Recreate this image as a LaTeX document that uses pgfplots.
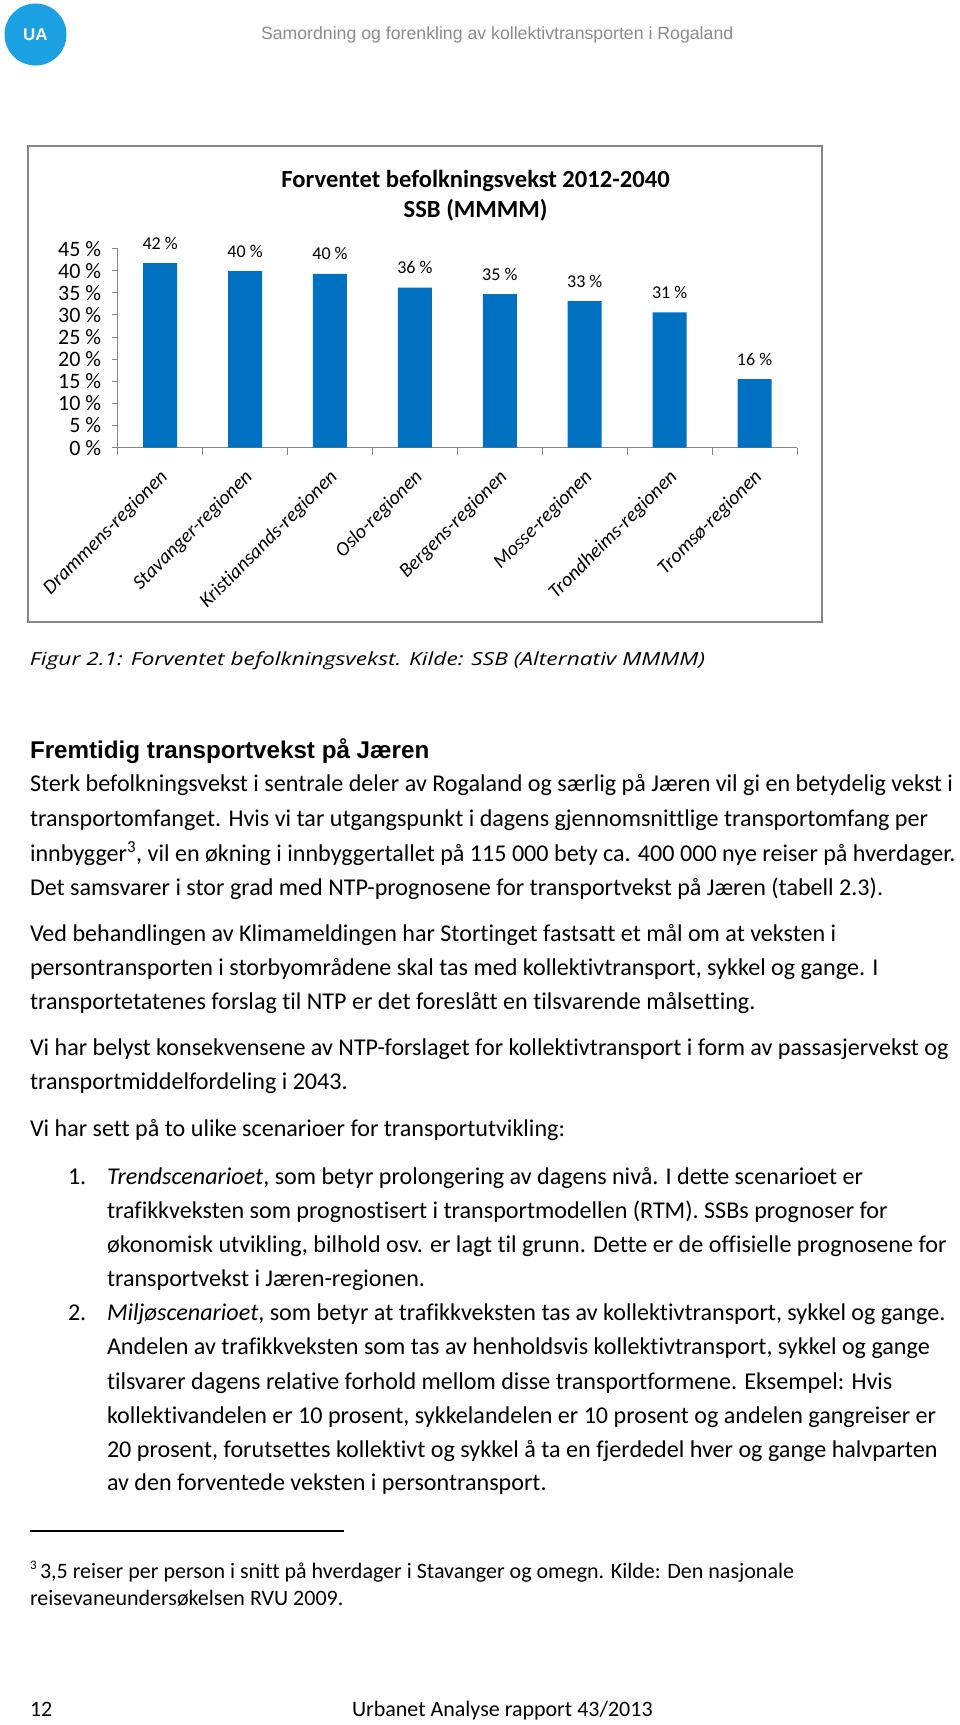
\documentclass[border=0pt]{standalone}
\usepackage{pgfplots}
\pgfplotsset{compat=1.18}
\usepackage{fontspec}
\usepackage{graphicx}
\setmainfont{Carlito}[Ligatures=NoCommon]
\newfontfamily\arial{Liberation Sans}
\newfontfamily\segoe{Open Sans}
\definecolor{barblue}{RGB}{0,112,192}
\definecolor{axisgray}{RGB}{134,134,134}
\definecolor{uablue}{RGB}{27,161,226}
\definecolor{headgray}{RGB}{140,140,140}
\newcommand{\tl}[4]{\node[anchor=base west, inner sep=0pt, outer sep=0pt] at (#1pt,-#2pt) {\resizebox{#3pt}{\height}{#4}};}
\newcommand{\nl}[3]{\node[anchor=base west, inner sep=0pt, outer sep=0pt] at (#1pt,-#2pt) {#3};}
\begin{document}
\begin{tikzpicture}
\useasboundingbox (0pt,0pt) rectangle (960pt,-1725pt);
\fill[white] (0pt,0pt) rectangle (960pt,-1725pt);
% header
\fill[uablue] (35.5pt,-34.5pt) circle (31pt);
\node[text=white, font=\arial\bfseries\fontsize{17}{20}\selectfont] at (35.5pt,-34.5pt) {UA};
\begin{scope}[font=\arial\fontsize{17.7}{20}\selectfont, text=headgray]
\nl{261}{39.5}{Samordning og forenkling av kollektivtransporten i Rogaland}
\end{scope}
% chart frame
\draw[axisgray, line width=2pt] (27.5pt,-146pt) rectangle (821.5pt,-622pt);
\node[font=\bfseries\fontsize{24.6}{28}\selectfont] at (475.6pt,-181pt) {Forventet befolkningsvekst 2012-2040};
\node[font=\bfseries\fontsize{24.6}{28}\selectfont] at (475.6pt,-210pt) {SSB (MMMM)};
\begin{axis}[
  at={(117.7pt,-447.6pt)}, anchor=south west,
  scale only axis, width=679.3pt, height=199pt,
  xmin=-0.5, xmax=7.5, ymin=0, ymax=45,
  axis x line*=bottom, axis y line*=left,
  axis line style={axisgray, line width=1pt, -},
  tick align=outside,
  ytick={0,5,...,45},
  yticklabel={\pgfmathprintnumber{\tick}~\%},
  /pgf/number format/assume math mode=true,
  yticklabel style={font=\fontsize{22}{26}\selectfont, xshift=-7pt},
  xtick={0,...,7},
  xticklabels={Drammens-regionen,Stavanger-regionen,Kristiansands-regionen,Oslo-regionen,Bergens-regionen,Mosse-regionen,Trondheims-regionen,Tromsø-regionen},
  xticklabel style={font=\itshape\fontsize{20}{24}\selectfont, anchor=east, xshift=7pt, yshift=-18pt, rotate=45},
  major x tick style={draw=none},
  minor xtick={-0.5,0.5,...,7.5},
  minor tick length=7pt, major tick length=6pt,
  tick style={axisgray, line width=1pt},
  clip=false,
]
\addplot[ybar, bar width=34pt, fill=barblue, draw=none,
  nodes near coords, point meta=explicit symbolic,
  every node near coord/.append style={anchor=center, yshift=20pt, font=\fontsize{18}{21}\selectfont, text=black}]
  table[meta=lab] {
x y lab
0 41.7 42~\%
1 39.9 40~\%
2 39.3 40~\%
3 36.2 36~\%
4 34.7 35~\%
5 33.1 33~\%
6 30.6 31~\%
7 15.5 16~\%
};
\end{axis}
% caption
\begin{scope}[font=\segoe\itshape\fontsize{18}{22}\selectfont]
\tl{30}{665}{675}{Figur 2.1: Forventet befolkningsvekst. Kilde: SSB (Alternativ MMMM)}
\end{scope}
\begin{scope}[font=\arial\bfseries\fontsize{24.2}{28}\selectfont]
\nl{30}{758.5}{Fremtidig transportvekst på Jæren}
\end{scope}
\begin{scope}[font=\fontsize{24.1}{29}\selectfont]
\nl{30}{791.6}{Sterk befolkningsvekst i sentrale deler av Rogaland og særlig på Jæren vil gi en betydelig vekst i}
\nl{30}{826}{transportomfanget. Hvis vi tar utgangspunkt i dagens gjennomsnittlige transportomfang per}
\nl{30}{861.2}{innbygger\textsuperscript{3}, vil en økning i innbyggertallet på 115 000 bety ca. 400 000 nye reiser på hverdager.}
\nl{30}{895.3}{Det samsvarer i stor grad med NTP-prognosene for transportvekst på Jæren (tabell 2.3).}
\nl{30}{941.4}{Ved behandlingen av Klimameldingen har Stortinget fastsatt et mål om at veksten i}
\nl{30}{975.5}{persontransporten i storbyområdene skal tas med kollektivtransport, sykkel og gange. I}
\nl{30}{1009.6}{transportetatenes forslag til NTP er det foreslått en tilsvarende målsetting.}
\nl{30}{1055.8}{Vi har belyst konsekvensene av NTP-forslaget for kollektivtransport i form av passasjervekst og}
\nl{30}{1089.9}{transportmiddelfordeling i 2043.}
\nl{30}{1136.1}{Vi har sett på to ulike scenarioer for transportutvikling:}
\nl{68}{1184.5}{1.}
\nl{107}{1184.5}{\textit{Trendscenarioet}, som betyr prolongering av dagens nivå. I dette scenarioet er}
\nl{107}{1218.6}{trafikkveksten som prognostisert i transportmodellen (RTM). SSBs prognoser for}
\nl{107}{1252.7}{økonomisk utvikling, bilhold osv. er lagt til grunn. Dette er de offisielle prognosene for}
\nl{107}{1286.8}{transportvekst i Jæren-regionen.}
\nl{68}{1320.8}{2.}
\nl{107}{1320.8}{\textit{Miljøscenarioet}, som betyr at trafikkveksten tas av kollektivtransport, sykkel og gange.}
\nl{107}{1354.9}{Andelen av trafikkveksten som tas av henholdsvis kollektivtransport, sykkel og gange}
\nl{107}{1389}{tilsvarer dagens relative forhold mellom disse transportformene. Eksempel: Hvis}
\nl{107}{1423.1}{kollektivandelen er 10 prosent, sykkelandelen er 10 prosent og andelen gangreiser er}
\nl{107}{1457.2}{20 prosent, forutsettes kollektivt og sykkel å ta en fjerdedel hver og gange halvparten}
\nl{107}{1490.2}{av den forventede veksten i persontransport.}
\end{scope}
\draw[black, line width=1.3pt] (30pt,-1531pt) -- (344pt,-1531pt);
\begin{scope}[font=\fontsize{22}{26}\selectfont]
\node[anchor=base west, inner sep=0pt, font=\fontsize{13}{15}\selectfont] at (30pt,-1569pt) {3};
\nl{40}{1578}{3,5 reiser per person i snitt på hverdager i Stavanger og omegn. Kilde: Den nasjonale}
\nl{30}{1605}{reisevaneundersøkelsen RVU 2009.}
\end{scope}
\begin{scope}[font=\fontsize{22}{26}\selectfont]
\nl{30}{1716}{12}
\nl{352}{1716}{Urbanet Analyse rapport 43/2013}
\end{scope}
\end{tikzpicture}
\end{document}
